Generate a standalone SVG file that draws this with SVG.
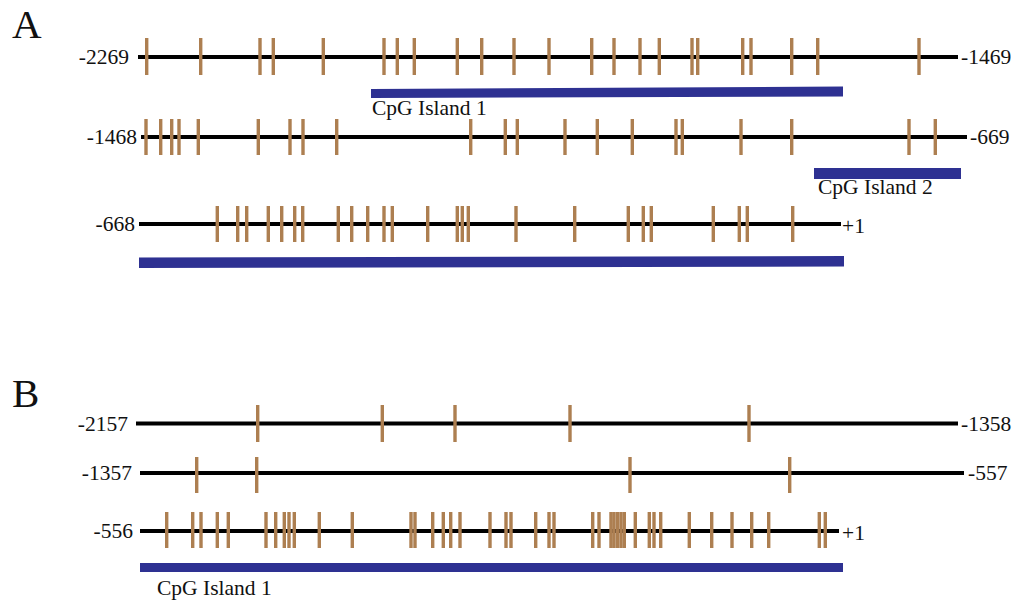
<svg xmlns="http://www.w3.org/2000/svg" width="1022" height="606" viewBox="0 0 1022 606">
<style>
text{font-family:"Liberation Serif","Times New Roman",serif;fill:#111}
.lbl{font-size:21.5px}
.big{font-size:41px}
.ax{stroke:#000;stroke-width:3.8}
.t{stroke:#AD7F51;stroke-width:3.4}
.bar{fill:#2E3192}
</style>
<rect width="1022" height="606" fill="#fff"/>
<text class="big" x="12" y="38">A</text>
<text class="big" x="12" y="407">B</text>

<g id="A-row1">
<line class="ax" x1="138" y1="57" x2="958" y2="57"/>
<text class="lbl" x="129" y="64" text-anchor="end">-2269</text>
<text class="lbl" x="961" y="64">-1469</text>
<g class="t">
<line x1="146.7" y1="38" x2="146.7" y2="75"/><line x1="200.7" y1="38" x2="200.7" y2="75"/><line x1="260" y1="38" x2="260" y2="75"/><line x1="273.3" y1="38" x2="273.3" y2="75"/><line x1="323.3" y1="38" x2="323.3" y2="75"/><line x1="384" y1="38" x2="384" y2="75"/><line x1="397.3" y1="38" x2="397.3" y2="75"/><line x1="414.3" y1="38" x2="414.3" y2="75"/><line x1="457.3" y1="38" x2="457.3" y2="75"/><line x1="481.7" y1="38" x2="481.7" y2="75"/><line x1="514" y1="38" x2="514" y2="75"/><line x1="549" y1="38" x2="549" y2="75"/><line x1="591.7" y1="38" x2="591.7" y2="75"/><line x1="614" y1="38" x2="614" y2="75"/><line x1="640" y1="38" x2="640" y2="75"/><line x1="659.3" y1="38" x2="659.3" y2="75"/><line x1="692" y1="38" x2="692" y2="75"/><line x1="697.7" y1="38" x2="697.7" y2="75"/><line x1="742.7" y1="38" x2="742.7" y2="75"/><line x1="751" y1="38" x2="751" y2="75"/><line x1="791.7" y1="38" x2="791.7" y2="75"/><line x1="817.7" y1="38" x2="817.7" y2="75"/><line x1="919" y1="38" x2="919" y2="75"/>
</g>
<polygon class="bar" points="371,89 843,86.5 843,96.5 371,98"/>
<text class="lbl" x="372" y="115">CpG Island 1</text>
</g>

<g id="A-row2">
<line class="ax" x1="141" y1="137" x2="967" y2="137"/>
<text class="lbl" x="137" y="144" text-anchor="end">-1468</text>
<text class="lbl" x="970" y="144">-669</text>
<g class="t">
<line x1="146" y1="119" x2="146" y2="155"/><line x1="160.7" y1="119" x2="160.7" y2="155"/><line x1="171.7" y1="119" x2="171.7" y2="155"/><line x1="179" y1="119" x2="179" y2="155"/><line x1="198.3" y1="119" x2="198.3" y2="155"/><line x1="258.3" y1="119" x2="258.3" y2="155"/><line x1="290" y1="119" x2="290" y2="155"/><line x1="303" y1="119" x2="303" y2="155"/><line x1="336.7" y1="119" x2="336.7" y2="155"/><line x1="470.7" y1="119" x2="470.7" y2="155"/><line x1="505.3" y1="119" x2="505.3" y2="155"/><line x1="517.3" y1="119" x2="517.3" y2="155"/><line x1="565" y1="119" x2="565" y2="155"/><line x1="597.3" y1="119" x2="597.3" y2="155"/><line x1="632.3" y1="119" x2="632.3" y2="155"/><line x1="676" y1="119" x2="676" y2="155"/><line x1="682.3" y1="119" x2="682.3" y2="155"/><line x1="741" y1="119" x2="741" y2="155"/><line x1="791.7" y1="119" x2="791.7" y2="155"/><line x1="909" y1="119" x2="909" y2="155"/><line x1="935.3" y1="119" x2="935.3" y2="155"/>
</g>
<rect class="bar" x="814" y="168" width="147" height="11"/>
<text class="lbl" x="818" y="194">CpG Island 2</text>
</g>

<g id="A-row3">
<line class="ax" x1="139" y1="224" x2="841" y2="224"/>
<text class="lbl" x="135" y="231" text-anchor="end">-668</text>
<text class="lbl" x="842" y="233">+1</text>
<g class="t">
<line x1="217.3" y1="206" x2="217.3" y2="242"/><line x1="237.7" y1="206" x2="237.7" y2="242"/><line x1="246.7" y1="206" x2="246.7" y2="242"/><line x1="268.3" y1="206" x2="268.3" y2="242"/><line x1="281.7" y1="206" x2="281.7" y2="242"/><line x1="294.7" y1="206" x2="294.7" y2="242"/><line x1="302.7" y1="206" x2="302.7" y2="242"/><line x1="338.3" y1="206" x2="338.3" y2="242"/><line x1="351.7" y1="206" x2="351.7" y2="242"/><line x1="367.7" y1="206" x2="367.7" y2="242"/><line x1="384" y1="206" x2="384" y2="242"/><line x1="392.3" y1="206" x2="392.3" y2="242"/><line x1="427.7" y1="206" x2="427.7" y2="242"/><line x1="457.3" y1="206" x2="457.3" y2="242"/><line x1="462.3" y1="206" x2="462.3" y2="242"/><line x1="468.3" y1="206" x2="468.3" y2="242"/><line x1="516" y1="206" x2="516" y2="242"/><line x1="574.7" y1="206" x2="574.7" y2="242"/><line x1="628.3" y1="206" x2="628.3" y2="242"/><line x1="643.3" y1="206" x2="643.3" y2="242"/><line x1="651.3" y1="206" x2="651.3" y2="242"/><line x1="713.3" y1="206" x2="713.3" y2="242"/><line x1="739.3" y1="206" x2="739.3" y2="242"/><line x1="747.3" y1="206" x2="747.3" y2="242"/><line x1="792.7" y1="206" x2="792.7" y2="242"/>
</g>
<polygon class="bar" points="139,257.5 844,256 844,266.5 139,268"/>
</g>

<g id="B-row1">
<line class="ax" x1="136" y1="423.5" x2="958" y2="423.5"/>
<text class="lbl" x="128" y="431" text-anchor="end">-2157</text>
<text class="lbl" x="961" y="431">-1358</text>
<g class="t">
<line x1="257.7" y1="405" x2="257.7" y2="442"/><line x1="382.3" y1="405" x2="382.3" y2="442"/><line x1="455" y1="405" x2="455" y2="442"/><line x1="570" y1="405" x2="570" y2="442"/><line x1="749" y1="405" x2="749" y2="442"/>
</g>
</g>

<g id="B-row2">
<line class="ax" x1="140" y1="473" x2="964" y2="473"/>
<text class="lbl" x="132" y="480" text-anchor="end">-1357</text>
<text class="lbl" x="968" y="480">-557</text>
<g class="t">
<line x1="196.7" y1="457" x2="196.7" y2="493"/><line x1="256.7" y1="457" x2="256.7" y2="493"/><line x1="630" y1="457" x2="630" y2="493"/><line x1="789.7" y1="457" x2="789.7" y2="493"/>
</g>
</g>

<g id="B-row3">
<line class="ax" x1="140" y1="531" x2="839" y2="531"/>
<text class="lbl" x="133" y="538" text-anchor="end">-556</text>
<text class="lbl" x="842" y="540">+1</text>
<g class="t">
<line x1="166.7" y1="512" x2="166.7" y2="548"/><line x1="192.7" y1="512" x2="192.7" y2="548"/><line x1="201" y1="512" x2="201" y2="548"/><line x1="217.3" y1="512" x2="217.3" y2="548"/><line x1="228.3" y1="512" x2="228.3" y2="548"/><line x1="266" y1="512" x2="266" y2="548"/><line x1="275.7" y1="512" x2="275.7" y2="548"/><line x1="284.3" y1="512" x2="284.3" y2="548"/><line x1="289" y1="512" x2="289" y2="548"/><line x1="294.3" y1="512" x2="294.3" y2="548"/><line x1="319.3" y1="512" x2="319.3" y2="548"/><line x1="352.3" y1="512" x2="352.3" y2="548"/><line x1="411" y1="512" x2="411" y2="548"/><line x1="415" y1="512" x2="415" y2="548"/><line x1="432.7" y1="512" x2="432.7" y2="548"/><line x1="443.3" y1="512" x2="443.3" y2="548"/><line x1="450.7" y1="512" x2="450.7" y2="548"/><line x1="460" y1="512" x2="460" y2="548"/><line x1="490" y1="512" x2="490" y2="548"/><line x1="506" y1="512" x2="506" y2="548"/><line x1="511" y1="512" x2="511" y2="548"/><line x1="535.7" y1="512" x2="535.7" y2="548"/><line x1="549" y1="512" x2="549" y2="548"/><line x1="554" y1="512" x2="554" y2="548"/><line x1="592.7" y1="512" x2="592.7" y2="548"/><line x1="599" y1="512" x2="599" y2="548"/><line x1="611" y1="512" x2="611" y2="548"/><line x1="614" y1="512" x2="614" y2="548"/><line x1="617.5" y1="512" x2="617.5" y2="548"/><line x1="621" y1="512" x2="621" y2="548"/><line x1="624.3" y1="512" x2="624.3" y2="548"/><line x1="635.3" y1="512" x2="635.3" y2="548"/><line x1="649.3" y1="512" x2="649.3" y2="548"/><line x1="654" y1="512" x2="654" y2="548"/><line x1="660.7" y1="512" x2="660.7" y2="548"/><line x1="689.3" y1="512" x2="689.3" y2="548"/><line x1="711.7" y1="512" x2="711.7" y2="548"/><line x1="732" y1="512" x2="732" y2="548"/><line x1="751.7" y1="512" x2="751.7" y2="548"/><line x1="768.7" y1="512" x2="768.7" y2="548"/><line x1="819.3" y1="512" x2="819.3" y2="548"/><line x1="825.3" y1="512" x2="825.3" y2="548"/>
</g>
<rect class="bar" x="140" y="563" width="703" height="9"/>
<text class="lbl" x="157" y="595">CpG Island 1</text>
</g>
</svg>
